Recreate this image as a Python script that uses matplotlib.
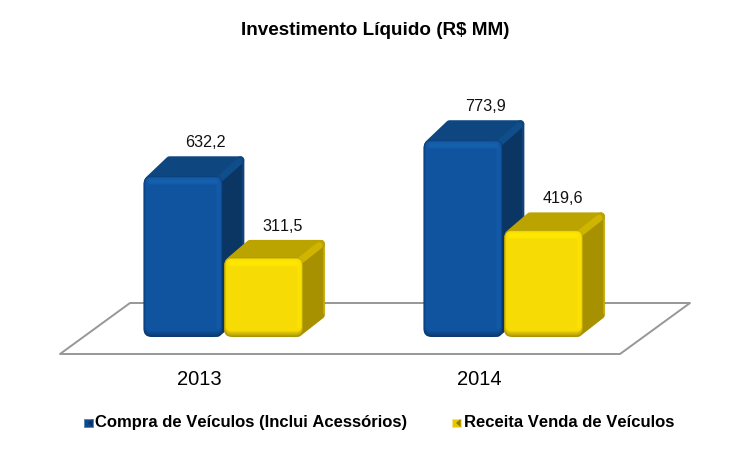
import matplotlib
matplotlib.use("Agg")
import matplotlib.pyplot as plt
from matplotlib.patches import FancyBboxPatch, Polygon, Rectangle
from matplotlib.colors import to_rgb
from matplotlib.transforms import IdentityTransform
import numpy as np

title = "Investimento Líquido (R$ MM)"
categories = ["2013", "2014"]
series_names = ["Compra de Veículos (Inclui Acessórios)", "Receita Venda de Veículos"]
compra = [632.2, 773.9]
receita = [311.5, 419.6]

plt.rcParams['font.family'] = ['Liberation Sans', 'DejaVu Sans']
plt.rcParams['text.kerning_factor'] = 6
W, H = 750, 450
fig = plt.figure(figsize=(7.5, 4.5), dpi=100, facecolor='white')
ax = fig.add_axes([0, 0, 1, 1])
PX_X = 280.0      # pixels per category
PX_Y = 0.2545     # pixels per value unit
BASE = 337.0      # pixel row of value 0
X0 = 223.5        # pixel column of the first category
ax.set_xlim(-X0 / PX_X, (W - X0) / PX_X)
ax.set_ylim((BASE - H) / PX_Y, BASE / PX_Y)
ax.axis('off')
T = IdentityTransform()

def P(x, y):
    return (x, H - y)

def poly(pts, fc, z, lw=0, ec=None):
    ax.add_patch(Polygon([P(*p) for p in pts], closed=True, fc=fc, ec=ec or fc, lw=lw,
                         joinstyle='round', transform=T, zorder=z, clip_on=False))

# floor
poly([(60, 354), (620, 354), (690, 303), (130, 303)], 'white', 1, lw=1.4, ec='#979797')

def mix(a, b, t):
    a, b = np.array(to_rgb(a)), np.array(to_rgb(b))
    return tuple(a + (b - a) * t)

def rrect(l, t, r_, b, rad, fc, z, alpha=1.0):
    ax.add_patch(FancyBboxPatch(P(l + rad, b - rad), r_ - l - 2 * rad, b - t - 2 * rad,
                                boxstyle=f"round,pad={rad},rounding_size={rad}", fc=fc, ec='none', alpha=alpha,
                                transform=T, zorder=z, clip_on=False))

def bar3d(cat, value, side, pal, z):
    bw, d = 80.0, 22.0
    dy = 20.0 if side == 0 else 18.0
    px, py = ax.transData.transform((cat, value))
    _, p0 = ax.transData.transform((cat, 0))
    left = px - bw if side == 0 else px + 0.5
    right = left + bw - 1
    top = H - py
    bot = H - p0
    ins = 4
    # side face
    poly([(right - 5, top + ins), (right + d - ins, top - dy + ins), (right + d - ins, bot - dy - ins),
          (right - 5, bot - ins)], pal['side'], z, lw=5.5)
    # top face
    poly([(left + 5, top + ins), (left + d + ins, top - dy + ins), (right + d - ins, top - dy + ins),
          (right - 5, top + ins)], pal['top'], z + 0.1, lw=5.5)
    # bright ridge between top and side
    ax.plot(*zip(P(right - 3, top + 3), P(right + d - 6, top - dy + 6)), color=pal['ridge'], lw=5,
            solid_capstyle='round', transform=T, zorder=z + 0.2, alpha=0.75)
    ax.plot(*zip(P(right + d - 1.5, top - dy + 8), P(right + d - 1.5, bot - dy - 6)), color=pal['ridge'], lw=1.5,
            transform=T, zorder=z + 0.2, alpha=0.55)
    # front face: nested rounded rectangles give the bevel (shadow sits at the bottom)
    n = 7
    for k in range(n):
        t = k / (n - 1)
        col = mix(pal['edge'], pal['front'], t)
        rrect(left + k * 0.35, top + k * 0.2, right - k * 0.25, bot - k * 1.0, max(8 - k * 0.5, 3), col, z + 0.3 + k * 0.01)
    # soft top highlight band and right-hand strip on the front
    for k, a in enumerate((0.35, 0.6, 0.9)):
        rrect(left + 3 + k, top + 1.5 + k, right - 3 - k, top + 9 - k, 3, pal['hi'], z + 0.4 + k * 0.01, alpha=a)
    rrect(right - 6, top + 6, right - 2, bot - 8, 2, pal['hi'], z + 0.39, alpha=0.5)
    lx, ly = left + bw / 2 + (22 if side == 0 else 19), top - dy - 14
    return lx, ly

blue = dict(front='#10539F', edge='#0A3A70', top='#0E4680', side='#0B3563', ridge='#11508F', hi='#1661AE')
yellow = dict(front='#F7DB05', edge='#A89408', top='#BBA300', side='#A79100', ridge='#D6BC00', hi='#FFE800')

for i, cat in enumerate(categories):
    lx, ly = bar3d(i, compra[i], 0, blue, 10 + i * 10)
    ax.text(lx, H - ly - 5, f"{compra[i]:.1f}".replace('.', ','), transform=T, ha='center', va='baseline',
            fontsize=11.6, color='#111111', zorder=40)
    lx, ly = bar3d(i, receita[i], 1, yellow, 15 + i * 10)
    ax.text(lx, H - ly - 5, f"{receita[i]:.1f}".replace('.', ','), transform=T, ha='center', va='baseline',
            fontsize=11.6, color='#111111', zorder=40)
    cx = ax.transData.transform((i, 0))[0] - 24
    ax.text(cx, H - 385, cat, transform=T, ha='center', va='baseline', fontsize=14.5, color='black', zorder=40)

ax.text(375, H - 35, title, transform=T, ha='center', va='baseline', fontsize=13.6, fontweight='bold', color='black')

# legend
legend_pos = [(84, 95), (452, 464)]
legend_pal = [('#0F4A8E', '#0A3563', '#5B86B8'), ('#E6C800', '#8F7C00', '#F4E47A')]
for (sx, tx), name, (c, e, o) in zip(legend_pos, series_names, legend_pal):
    ax.add_patch(Rectangle(P(sx, 427), 8.5, 8.5, fc=c, ec=o, lw=0.7, transform=T, zorder=30))
    ax.add_patch(Polygon([P(sx + 4, 423), P(sx + 8.5, 419), P(sx + 8.5, 427)], fc=e, ec='none', transform=T, zorder=31))
    ax.text(tx, H - 427, name, transform=T, ha='left', va='baseline', fontsize=11.95, fontweight='bold', color='black')

fig.savefig('out.png', dpi=100, facecolor='white')
